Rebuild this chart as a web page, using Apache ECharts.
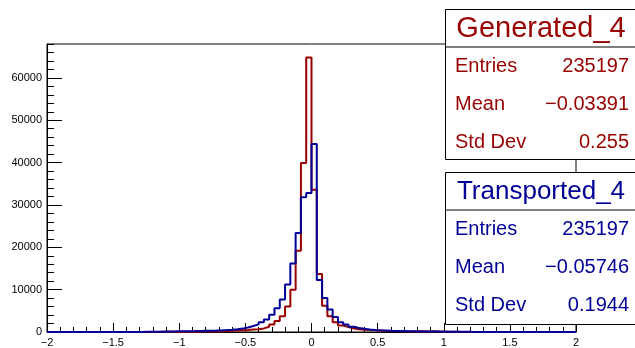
<!DOCTYPE html>
<html>
<head>
<meta charset="utf-8">
<script src="https://cdn.jsdelivr.net/npm/echarts@6/dist/echarts.min.js"></script>
<style>
  html, body { margin: 0; padding: 0; background: #fff; }
  #chart { width: 635px; height: 348px; }
</style>
</head>
<body>
<div id="chart"></div>
<script>
// histogram binning: 100 bins from -2 to 2
const binLo = -2
const binWidth = 0.04

const generated = [
  0, 0, 0, 0, 0, 0, 0, 0, 0, 0,
  0, 0, 0, 0, 0, 0, 10, 10, 10, 20,
  20, 30, 30, 40, 50, 60, 70, 80, 100, 120,
  140, 170, 200, 240, 290, 340, 400, 450, 600, 650,
  850, 1250, 1800, 2600, 3700, 6000, 10000, 19200, 39900, 64800,
  33600, 13700, 6200, 3700, 2300, 1550, 1150, 800, 620, 520,
  450, 400, 330, 260, 220, 190, 170, 150, 140, 130,
  180, 110, 170, 90, 70, 50, 40, 30, 25, 20,
  15, 15, 10, 10, 10, 0, 0, 0, 0, 0,
  0, 0, 0, 0, 0, 0, 0, 0, 0, 0
]

const transported = [
  0, 0, 0, 0, 0, 0, 0, 0, 0, 0,
  0, 0, 0, 0, 10, 10, 20, 20, 30, 40,
  60, 80, 100, 120, 150, 180, 200, 220, 250, 280,
  310, 350, 400, 460, 540, 640, 800, 1050, 1400, 1800,
  2300, 2950, 4100, 5600, 7700, 11200, 16200, 23400, 31800, 32800,
  44400, 12300, 8000, 5300, 3550, 2300, 1800, 1250, 950, 750,
  600, 500, 420, 360, 300, 260, 230, 200, 180, 160,
  140, 120, 110, 100, 90, 70, 60, 50, 40, 30,
  25, 20, 15, 10, 10, 0, 0, 0, 0, 0,
  0, 0, 0, 0, 0, 0, 0, 0, 0, 0
]

const statsGenerated = { title: 'Generated_4', entries: '235197', mean: '\u22120.03391', std: '0.255' }
const statsTransported = { title: 'Transported_4', entries: '235197', mean: '\u22120.05746', std: '0.1944' }

const red = '#990000'
const blue = '#000099'
const font = 'Liberation Sans, Arial, sans-serif'

// bin contents -> step points at the left edges, plus closing point at the upper edge
function toSteps(vals) {
  const pts = vals.map((v, i) => [binLo + i * binWidth, v])
  pts.push([binLo + vals.length * binWidth, vals[vals.length - 1]])
  return pts
}

function statsBox(s, color, top, height, titleSize) {
  const rows = [['Entries', s.entries], ['Mean', s.mean], ['Std Dev', s.std]]
  const els = [
    { type: 'rect', shape: { x: 445.5, y: top + 0.5, width: 200, height: height },
      style: { fill: '#fff', stroke: '#000', lineWidth: 1 }, z: 100 },
    { type: 'line', shape: { x1: 445.5, y1: top + 38, x2: 640, y2: top + 38 },
      style: { stroke: '#000', lineWidth: 1 }, z: 101 },
    { type: 'text', x: 541, y: top + 19.5, z: 102,
      style: { text: s.title, fill: color, font: titleSize + 'px ' + font, align: 'center', verticalAlign: 'middle' } }
  ]
  rows.forEach((r, k) => {
    const y = top + 57 + k * 38.4
    els.push({ type: 'text', x: 455, y: y, z: 102,
      style: { text: r[0], fill: color, font: '20px ' + font, align: 'left', verticalAlign: 'middle' } })
    els.push({ type: 'text', x: 629, y: y, z: 102,
      style: { text: r[1], fill: color, font: '20px ' + font, align: 'right', verticalAlign: 'middle' } })
  })
  return els
}

const chart = echarts.init(document.getElementById('chart'), null, { renderer: 'canvas' })

chart.setOption({
  animation: false,
  backgroundColor: '#fff',
  textStyle: { fontFamily: font },
  grid: {
    left: 47, right: 59, top: 44, bottom: 12,
    show: true, borderColor: '#000', borderWidth: 1, backgroundColor: 'transparent'
  },
  xAxis: {
    type: 'value', min: -2, max: 2, interval: 0.5,
    axisLine: { show: true, onZero: false, lineStyle: { color: '#000', width: 1 } },
    axisTick: { show: true, inside: true, length: 9, lineStyle: { color: '#000' } },
    minorTick: { show: true, splitNumber: 5, length: 5, lineStyle: { color: '#000' } },
    axisLabel: {
      color: '#000', fontSize: 11, margin: 5,
      formatter: v => String(v).replace('-', '\u2212')
    },
    splitLine: { show: false }
  },
  yAxis: [
    {
      type: 'value', min: 0, max: 68000, interval: 10000, position: 'left',
      axisLine: { show: true, onZero: false, lineStyle: { color: '#000', width: 1 } },
      axisTick: { show: true, inside: true, length: 15, lineStyle: { color: '#000' } },
      axisLabel: { color: '#000', fontSize: 11, margin: 5, showMaxLabel: false, formatter: v => String(v) },
      splitLine: { show: false }
    },
    {
      type: 'value', min: 0, max: 68000, interval: 2000, position: 'left',
      axisLine: { show: false, onZero: false },
      axisTick: { show: true, inside: true, length: 7, lineStyle: { color: '#000' } },
      axisLabel: { show: false },
      splitLine: { show: false }
    }
  ],
  series: [
    {
      name: statsGenerated.title, type: 'line', step: 'end', symbol: 'none', clip: false,
      data: toSteps(generated),
      lineStyle: { color: red, width: 2 }
    },
    {
      name: statsTransported.title, type: 'line', step: 'end', symbol: 'none', clip: false,
      data: toSteps(transported),
      lineStyle: { color: blue, width: 2 }
    }
  ],
  graphic: statsBox(statsGenerated, red, 9, 150, 29)
    .concat(statsBox(statsTransported, blue, 172, 152, 26))
})
</script>
</body>
</html>
